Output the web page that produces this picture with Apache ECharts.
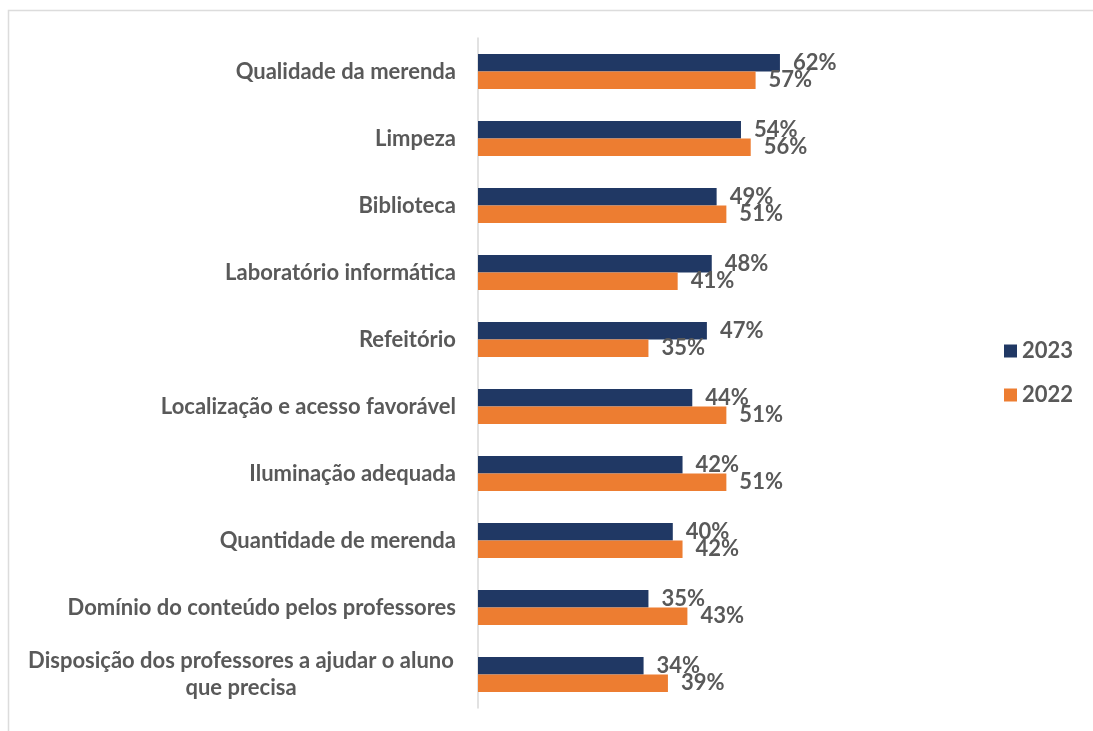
<html lang="pt">
<head>
  <meta charset="utf-8">
  <title>Avaliação da escola 2023 x 2022</title>
  <script src="https://cdn.jsdelivr.net/npm/echarts@6/dist/echarts.min.js"></script>
  <style>
    html, body { margin: 0; padding: 0; background: #fff; }
    #main { width: 1093px; height: 731px; }
  </style>
</head>
<body>
  <div id="main"></div>
</body>
<script>
  // categorias (de cima para baixo)
  var categorias = [
    'Qualidade da merenda',
    'Limpeza',
    'Biblioteca',
    'Laboratório informática',
    'Refeitório',
    'Localização e acesso favorável',
    'Iluminação adequada',
    'Quantidade de merenda',
    'Domínio do conteúdo pelos professores',
    'Disposição dos professores a ajudar o aluno\nque precisa'
  ];
  var anos = ['2023', '2022'];
  var valores2023 = [62, 54, 49, 48, 47, 44, 42, 40, 35, 34];
  var valores2022 = [57, 56, 51, 41, 35, 51, 51, 42, 43, 39];

  var cinza = '#595959';
  var fonte = 'Lato';
  var tam = 22;

  function rotulo() {
    return {
      show: true,
      position: 'right',
      distance: 13,
      color: cinza,
      fontFamily: fonte,
      fontWeight: 'bold',
      fontSize: tam,
      formatter: '{c}%'
    };
  }

  var myChart = echarts.init(document.getElementById('main'), null, { renderer: 'canvas' });
  myChart.setOption({
    backgroundColor: '#fff',
    animation: false,
    graphic: [{
      type: 'rect',
      shape: { x: 8.5, y: 10.5, width: 1200, height: 800 },
      style: { fill: 'none', stroke: '#dcdcdc', lineWidth: 1.5 },
      silent: true
    }],
    legend: {
      orient: 'vertical',
      left: 999,
      top: 335,
      itemWidth: 13,
      itemHeight: 13,
      itemGap: 22,
      icon: 'rect',
      textStyle: { color: cinza, fontFamily: fonte, fontWeight: 'bold', fontSize: tam },
      data: anos
    },
    grid: { left: 478, top: 38, bottom: 23, right: 128, containLabel: false },
    xAxis: {
      type: 'value',
      min: 0,
      max: 100,
      show: false
    },
    yAxis: {
      type: 'category',
      inverse: true,
      data: categorias,
      axisLine: { show: true, lineStyle: { color: '#d9d9d9', width: 1.5 } },
      axisTick: { show: false },
      axisLabel: {
        margin: 22,
        color: cinza,
        fontFamily: fonte,
        fontWeight: 'bold',
        fontSize: tam,
        lineHeight: 27,
        formatter: function (v) {
          if (v.indexOf('\n') >= 0) {
            return v.split('\n').map(function (l) { return '{c|' + l + '}'; }).join('\n');
          }
          return v;
        },
        rich: {
          c: {
            width: 430,
            align: 'center',
            color: cinza,
            fontFamily: fonte,
            fontWeight: 'bold',
            fontSize: tam,
            lineHeight: 27
          }
        }
      }
    },
    series: [
      {
        name: '2023',
        type: 'bar',
        data: valores2023,
        itemStyle: { color: '#203864' },
        barGap: '0%',
        barCategoryGap: '48%',
        label: rotulo()
      },
      {
        name: '2022',
        type: 'bar',
        data: valores2022,
        itemStyle: { color: '#ed7d31' },
        barGap: '0%',
        barCategoryGap: '48%',
        label: rotulo()
      }
    ]
  });
</script>
</html>
